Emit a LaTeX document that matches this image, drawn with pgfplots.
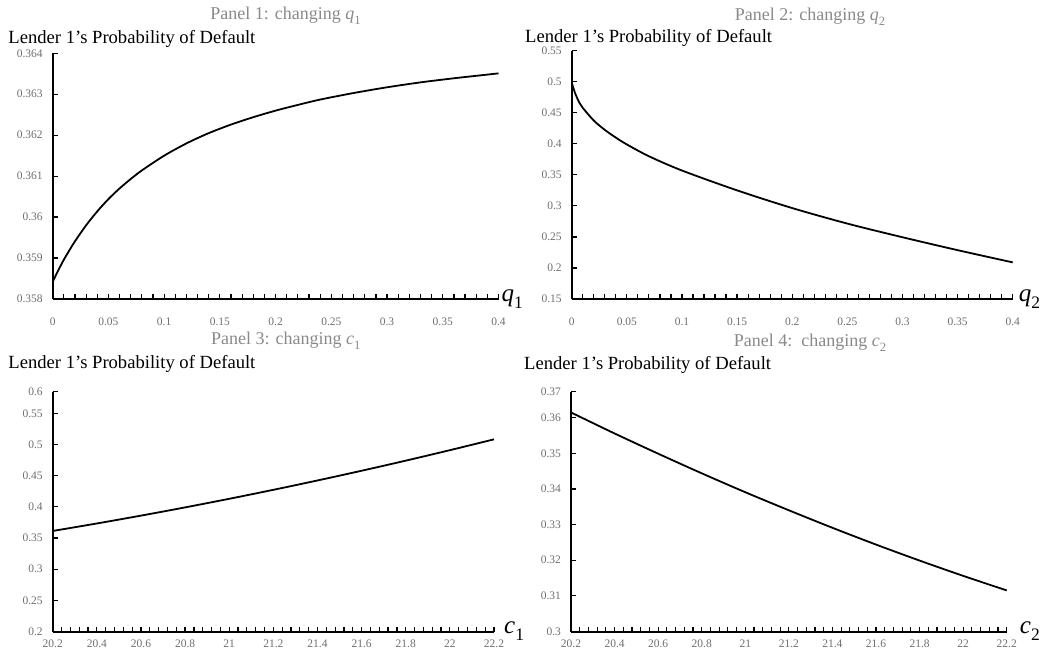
\documentclass[border=0pt]{standalone}
\usepackage{graphicx}
\usepackage{pgfplots}
\pgfplotsset{compat=1.18}
\usepackage{fontspec}
\setmainfont{Liberation Serif}
\newcommand{\vsub}[2]{\textit{#1}\raisebox{-0.28em}{\scalebox{0.7}{#2}}}
\definecolor{titlegray}{RGB}{137,137,137}
\definecolor{tickgray}{RGB}{110,110,110}
\pgfplotsset{
 panel/.style={
  scale only axis,
  axis lines*=left,
  axis line style={line width=2pt, black},
  tick align=inside,
  major tick length=5pt, minor tick length=5pt,
  every tick/.append style={line width=1.2pt, black},
  tick label style={font=\fontsize{11.5}{13}\selectfont, text=tickgray},
  /pgf/number format/assume math mode=true,
  scaled ticks=false,
  yticklabel style={xshift=-6.5pt},
  anchor=south west,
  clip=false,
  xlabel style={at={(rel axis cs:1,0)}, anchor=west, inner sep=0pt, font=\fontsize{25}{27}\selectfont},
 },
 curve/.style={black, line width=1.8pt, smooth, no markers},
}
\begin{document}
\begin{tikzpicture}
\path[use as bounding box] (0,0) rectangle (1043pt,-652pt);
% texts
\node[anchor=base, inner sep=0pt, text=titlegray, font=\fontsize{18}{20}\selectfont] at (285.5pt,-19.3pt) {Panel 1: changing \vsub{q}{1}};
\node[anchor=base west, inner sep=0pt, font=\fontsize{18.6}{20}\selectfont] at (8.3pt,-43.3pt) {Lender 1’s Probability of Default};
\node[anchor=base, inner sep=0pt, text=titlegray, font=\fontsize{18}{20}\selectfont] at (810pt,-20.7pt) {Panel 2: changing \vsub{q}{2}};
\node[anchor=base west, inner sep=0pt, font=\fontsize{18.6}{20}\selectfont] at (525pt,-42.7pt) {Lender 1’s Probability of Default};
\node[anchor=base, inner sep=0pt, text=titlegray, font=\fontsize{18}{20}\selectfont] at (285.7pt,-344pt) {Panel 3: changing \vsub{c}{1}};
\node[anchor=base west, inner sep=0pt, font=\fontsize{18.6}{20}\selectfont] at (8.3pt,-368.3pt) {Lender 1’s Probability of Default};
\node[anchor=base, inner sep=0pt, text=titlegray, font=\fontsize{18}{20}\selectfont] at (810pt,-346.7pt) {Panel 4:\ \ changing \vsub{c}{2}};
\node[anchor=base west, inner sep=0pt, font=\fontsize{18.6}{20}\selectfont] at (524pt,-369.3pt) {Lender 1’s Probability of Default};

% Panel 1
\begin{axis}[panel, at={(52.7pt,-299pt)}, width=445.8pt, height=245.7pt,
  xmin=0, xmax=0.4, ymin=0.358, ymax=0.364,
  xtick={0,0.05,0.1,0.15,0.2,0.25,0.3,0.35,0.4},
  xticklabels={0,0.05,0.1,0.15,0.2,0.25,0.3,0.35,0.4},
  minor x tick num=4,
  ytick={0.358,0.359,0.36,0.361,0.362,0.363,0.364},
  yticklabels={0.358,0.359,0.36,0.361,0.362,0.363,0.364},
  xticklabel style={anchor=base, yshift=-26pt},
  xlabel={\vsub{q}{1}}, xlabel style={xshift=3pt}]
\addplot[curve] coordinates {
(0,0.35842) (0.005,0.35870) (0.01,0.35896) (0.015,0.35919) (0.02,0.35941)
(0.03,0.35980) (0.04,0.36014) (0.05,0.36044) (0.06,0.36070) (0.07,0.36093)
(0.08,0.36114) (0.1,0.36150) (0.12,0.36180) (0.14,0.36205) (0.16,0.36226)
(0.18,0.36244) (0.2,0.36260) (0.22,0.36274) (0.24,0.36287) (0.27,0.36303)
(0.3,0.36317) (0.33,0.36329) (0.36,0.36339) (0.38,0.36345) (0.4,0.36351)};
\end{axis}

% Panel 2
\begin{axis}[panel, at={(571.7pt,-299pt)}, width=441pt, height=248.3pt,
  xmin=0, xmax=0.4, ymin=0.15, ymax=0.55,
  xtick={0,0.05,0.1,0.15,0.2,0.25,0.3,0.35,0.4},
  xticklabels={0,0.05,0.1,0.15,0.2,0.25,0.3,0.35,0.4},
  minor x tick num=4,
  ytick={0.15,0.2,0.25,0.3,0.35,0.4,0.45,0.5,0.55},
  yticklabels={0.15,0.2,0.25,0.3,0.35,0.4,0.45,0.5,0.55},
  xticklabel style={anchor=base, yshift=-26pt},
  xlabel={\vsub{q}{2}}, xlabel style={xshift=6pt}]
\addplot[curve] coordinates {
(0,0.499) (0.003,0.482) (0.007,0.466) (0.01,0.458) (0.02,0.4375) (0.03,0.4225)
(0.04,0.410) (0.05,0.399) (0.07,0.380) (0.1,0.357) (0.15,0.325) (0.2,0.2965)
(0.25,0.2715) (0.3,0.2495) (0.35,0.2287) (0.4,0.209)};
\end{axis}

% Panel 3
\begin{axis}[panel, at={(52.7pt,-631.5pt)}, width=441.3pt, height=239.8pt,
  xmin=20.2, xmax=22.2, ymin=0.2, ymax=0.5847,
  xtick={20.2,20.4,20.6,20.8,21,21.2,21.4,21.6,21.8,22,22.2},
  xticklabels={20.2,20.4,20.6,20.8,21,21.2,21.4,21.6,21.8,22,22.2},
  minor x tick num=4,
  ytick={0.2,0.25,0.3,0.35,0.4,0.45,0.5,0.55,0.5847},
  yticklabels={0.2,0.25,0.3,0.35,0.4,0.45,0.5,0.55,0.6},
  xticklabel style={anchor=base, yshift=-16pt},
  xlabel={\vsub{c}{1}}, xlabel style={xshift=10pt}]
\addplot[curve] coordinates {
(20.2,0.3613) (20.4,0.3733) (20.6,0.3859) (20.8,0.3991) (21.0,0.4129)
(21.2,0.4273) (21.4,0.4423) (21.6,0.4579) (21.8,0.4741) (22.0,0.4909) (22.2,0.5083)};
\end{axis}

% Panel 4
\begin{axis}[panel, at={(571pt,-631.5pt)}, width=435.7pt, height=239.8pt,
  xmin=20.2, xmax=22.2, ymin=0.3, ymax=0.3673,
  xtick={20.2,20.4,20.6,20.8,21,21.2,21.4,21.6,21.8,22,22.2},
  xticklabels={20.2,20.4,20.6,20.8,21,21.2,21.4,21.6,21.8,22,22.2},
  minor x tick num=4,
  ytick={0.3,0.31,0.32,0.33,0.34,0.35,0.36,0.3673},
  yticklabels={0.3,0.31,0.32,0.33,0.34,0.35,0.36,0.37},
  xticklabel style={anchor=base, yshift=-16pt},
  xlabel={\vsub{c}{2}}, xlabel style={xshift=13pt}]
\addplot[curve] coordinates {
(20.2,0.36148) (20.4,0.35558) (20.6,0.34991) (20.8,0.34440) (21.0,0.33909)
(21.2,0.33402) (21.4,0.32911) (21.6,0.32440) (21.8,0.31991) (22.0,0.31562) (22.2,0.31153)};
\end{axis}
\end{tikzpicture}
\end{document}
